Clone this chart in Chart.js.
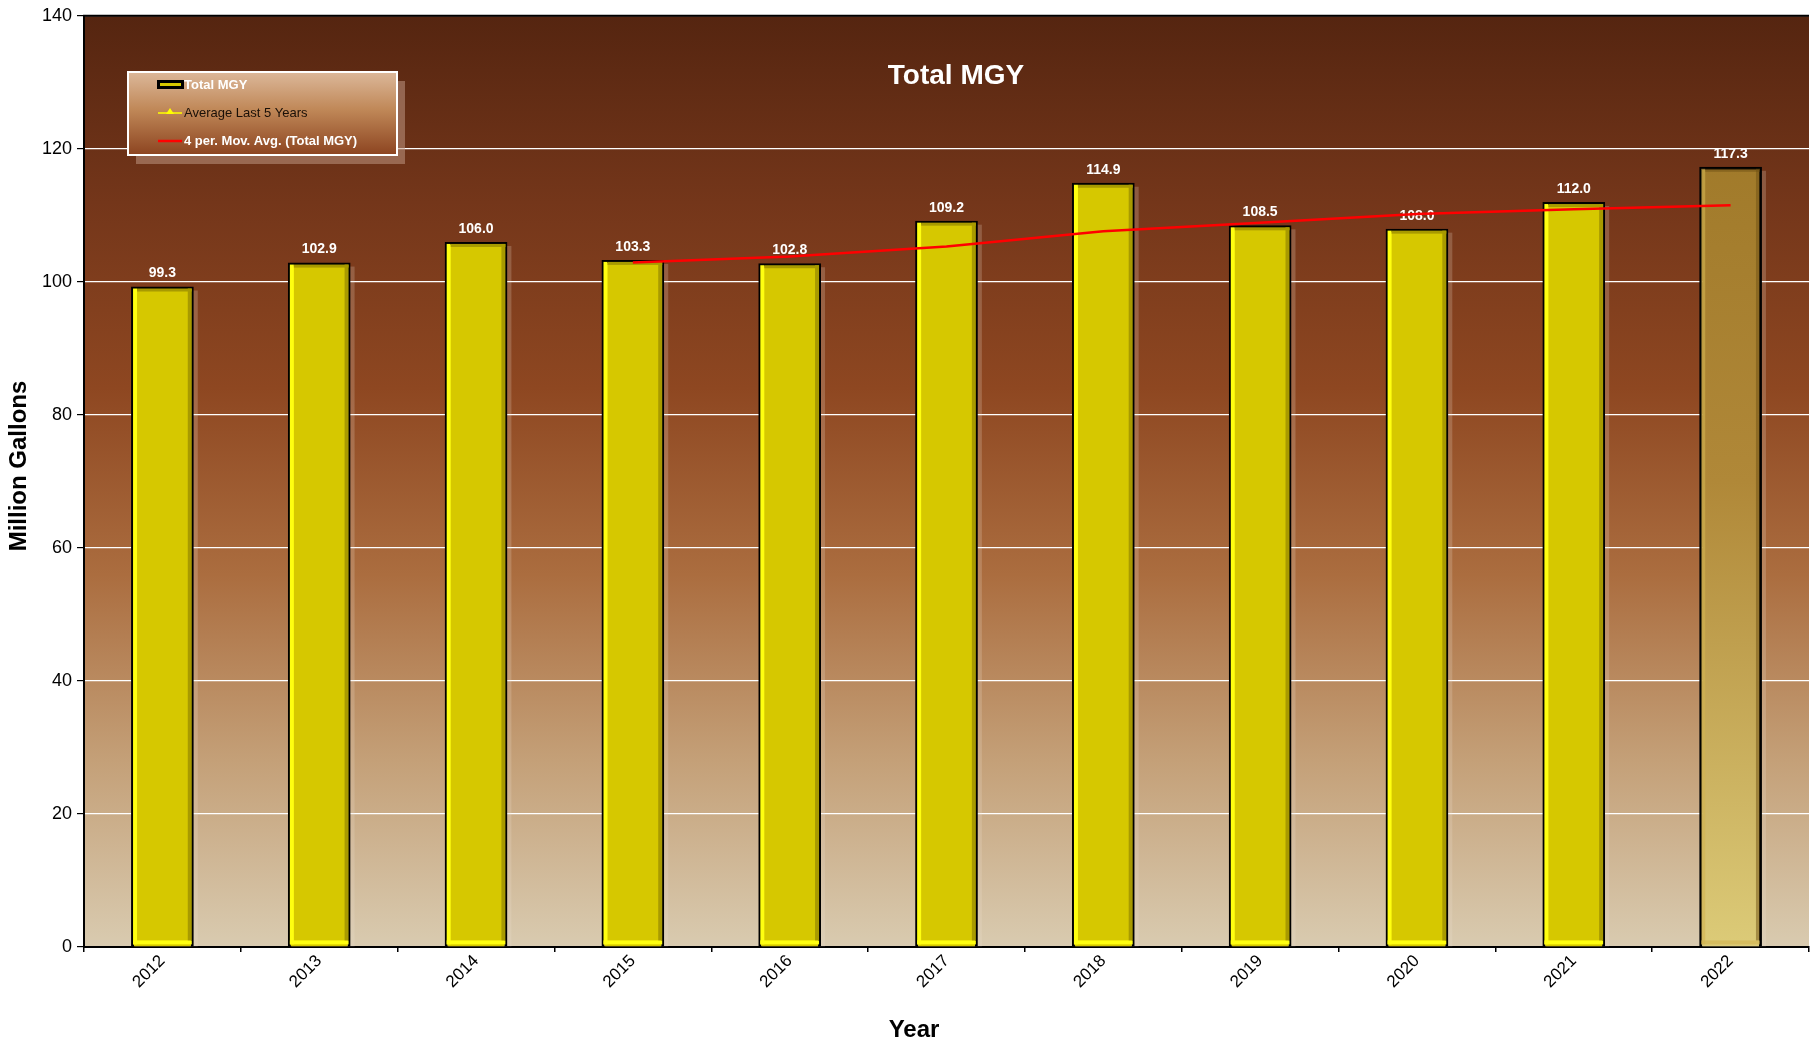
<!DOCTYPE html>
<html>
<head>
<meta charset="utf-8">
<script src="https://cdn.jsdelivr.net/npm/chart.js"></script>
<style>
  html, body { margin: 0; padding: 0; background: #ffffff; }
  #wrap { width: 1815px; height: 1046px; }
</style>
</head>
<body>
<div id="wrap"><canvas id="chart" width="1815" height="1046"></canvas></div>
<script>
// données
const years = ["2012", "2013", "2014", "2015", "2016", "2017", "2018", "2019", "2020", "2021", "2022"];
const totalMGY = [99.3, 102.9, 106.0, 103.3, 102.8, 109.2, 114.9, 108.5, 108.0, 112.0, 117.3];
const avgLast5 = [null, null, null, null, null, null, null, null, null, null, null];
const movAvg4 = [null, null, null, 102.9, 103.8, 105.3, 107.6, 108.9, 110.2, 110.9, 111.5];
const yTicks = [0, 20, 40, 60, 80, 100, 120, 140];

const FONT = "'Liberation Sans', Arial, sans-serif";

// fond dégradé de la zone de tracé
const plotBackground = {
    id: "plotBackground",
    beforeDraw(chart) {
        const { ctx, chartArea: a } = chart;
        const g = ctx.createLinearGradient(0, a.top, 0, a.bottom);
        g.addColorStop(0, "#552510");
        g.addColorStop(0.2, "#74361a");
        g.addColorStop(0.4, "#8e4721");
        g.addColorStop(0.6, "#ab6d3f");
        g.addColorStop(0.8, "#c4a078");
        g.addColorStop(1, "#d9cbb0");
        ctx.save();
        ctx.fillStyle = g;
        ctx.fillRect(a.left, a.top, a.right - a.left, a.bottom - a.top);
        ctx.restore();
    },
    afterDraw(chart) {
        const { ctx, chartArea: a } = chart;
        ctx.save();
        ctx.strokeStyle = "#000";
        ctx.lineWidth = 2;
        ctx.beginPath();
        ctx.moveTo(a.left, a.bottom);
        ctx.lineTo(a.left, a.top);
        ctx.lineTo(a.right, a.top);
        ctx.stroke();
        // titres des axes
        ctx.fillStyle = "#000";
        ctx.font = "bold 24px " + FONT;
        ctx.textAlign = "center";
        ctx.textBaseline = "middle";
        ctx.fillText("Year", 914, 1030);
        ctx.translate(19, 466);
        ctx.rotate(-Math.PI / 2);
        ctx.fillText("Million Gallons", 0, 0);
        ctx.restore();
    }
};

// relief des barres + étiquettes
const barStyle = {
    id: "barStyle",
    beforeDatasetDraw(chart, args) {
        if (args.index !== 0) return;
        const { ctx } = chart;
        ctx.save();
        args.meta.data.forEach(bar => {
            const w = bar.width;
            ctx.fillStyle = "rgba(235,225,210,0.22)";
            ctx.fillRect(bar.x - w / 2 + 4, bar.y + 4, w, bar.base - bar.y - 4);
        });
        ctx.restore();
    },
    afterDatasetDraw(chart, args) {
        if (args.index !== 0) return;
        const { ctx } = chart;
        ctx.save();
        args.meta.data.forEach((bar, i) => {
            const w = bar.width;
            const l = bar.x - w / 2 + 2, r = bar.x + w / 2 - 2;
            const t = bar.y + 2, b = bar.base - 2;
            const last = i === totalMGY.length - 1;
            ctx.fillStyle = last ? "rgba(210,180,80,0.6)" : "#ffff10";
            ctx.fillRect(l, t, 4, b - t);
            ctx.fillRect(l, b - 4, r - l, 4);
            ctx.fillStyle = last ? "rgba(110,80,20,0.5)" : "#a89a00";
            ctx.fillRect(r - 4, t, 4, b - t - 4);
            ctx.fillRect(l + 4, t, r - l - 4, 3);
            // étiquette
            ctx.fillStyle = "#ffffff";
            ctx.font = "bold 14px " + FONT;
            ctx.textAlign = "center";
            ctx.textBaseline = "bottom";
            ctx.fillText(totalMGY[i].toFixed(1), bar.x, bar.y - 6);
        });
        ctx.restore();
    }
};

// titre et légende dessinés dans la zone
const titleLegend = {
    id: "titleLegend",
    afterDraw(chart) {
        const { ctx } = chart;
        ctx.save();
        ctx.fillStyle = "#ffffff";
        ctx.font = "bold 28px " + FONT;
        ctx.textAlign = "center";
        ctx.textBaseline = "middle";
        ctx.fillText("Total MGY", 956, 76);

        const bx = 128, by = 72, bw = 269, bh = 83;
        ctx.fillStyle = "rgba(190,150,130,0.55)";
        ctx.fillRect(bx + 8, by + 9, bw, bh);
        const g = ctx.createLinearGradient(0, by, 0, by + bh);
        g.addColorStop(0, "#dcb89a");
        g.addColorStop(0.45, "#c08858");
        g.addColorStop(1, "#8c4420");
        ctx.fillStyle = g;
        ctx.fillRect(bx, by, bw, bh);
        ctx.strokeStyle = "#ffffff";
        ctx.lineWidth = 2;
        ctx.strokeRect(bx, by, bw, bh);

        // symboles
        ctx.fillStyle = "#000";
        ctx.fillRect(157, 80, 27, 9);
        ctx.fillStyle = "#d6c800";
        ctx.fillRect(160, 83, 21, 3);
        ctx.strokeStyle = "#ffff00";
        ctx.lineWidth = 1.5;
        ctx.beginPath(); ctx.moveTo(158, 113); ctx.lineTo(182, 113); ctx.stroke();
        ctx.fillStyle = "#ffff00";
        ctx.beginPath(); ctx.moveTo(170, 108); ctx.lineTo(174, 114); ctx.lineTo(166, 114); ctx.closePath(); ctx.fill();
        ctx.strokeStyle = "#ff0000";
        ctx.lineWidth = 2.5;
        ctx.beginPath(); ctx.moveTo(158, 141); ctx.lineTo(182, 141); ctx.stroke();

        ctx.textAlign = "left";
        ctx.font = "bold 13px " + FONT;
        ctx.fillStyle = "#ffffff";
        ctx.fillText("Total MGY", 184, 85);
        ctx.font = "13px " + FONT;
        ctx.fillStyle = "#1a1008";
        ctx.fillText("Average Last 5 Years", 184, 113);
        ctx.font = "bold 13px " + FONT;
        ctx.fillStyle = "#ffffff";
        ctx.fillText("4 per. Mov. Avg. (Total MGY)", 184, 141);
        ctx.restore();
    }
};

const lastBarFill = (context) => {
    const chart = context.chart;
    const a = chart.chartArea;
    if (!a) return "#d6c800";
    if (context.dataIndex !== totalMGY.length - 1) return "#d6c800";
    const g = chart.ctx.createLinearGradient(0, a.top, 0, a.bottom);
    g.addColorStop(0, "#9a7424");
    g.addColorStop(0.5, "#b08838");
    g.addColorStop(1, "#dccb78");
    return g;
};

new Chart(document.getElementById("chart"), {
    type: "bar",
    data: {
        labels: years,
        datasets: [
            {
                label: "Total MGY",
                data: totalMGY,
                backgroundColor: lastBarFill,
                borderColor: "#000000",
                borderWidth: 3,
                barPercentage: 0.8,
                categoryPercentage: 0.5,
                order: 2
            },
            {
                type: "line",
                label: "Average Last 5 Years",
                data: avgLast5,
                borderColor: "#ffff00",
                pointStyle: "triangle",
                order: 1
            },
            {
                type: "line",
                label: "4 per. Mov. Avg. (Total MGY)",
                data: movAvg4,
                borderColor: "#ff0000",
                borderWidth: 2.5,
                pointRadius: 0,
                tension: 0,
                spanGaps: false,
                order: 0
            }
        ]
    },
    options: {
        responsive: false,
        animation: false,
        layout: { padding: { top: 15, right: 6, left: 0, bottom: 0 } },
        plugins: {
            legend: { display: false },
            title: { display: false },
            tooltip: { enabled: false }
        },
        scales: {
            x: {
                grid: { display: true, drawOnChartArea: false, offset: true, color: "#000", tickLength: 5, lineWidth: 1.5 },
                border: { color: "#000", width: 2 },
                ticks: {
                    color: "#000",
                    font: { family: FONT, size: 17 },
                    minRotation: 45,
                    maxRotation: 45,
                    padding: -1
                },
                afterFit(scale) { scale.height = 99; }
            },
            y: {
                min: 0,
                max: 140,
                afterBuildTicks(scale) { scale.ticks = yTicks.map(v => ({ value: v })); },
                grid: { color: "#ffffff", lineWidth: 1.2, tickLength: 7, tickColor: "#000", drawTicks: true },
                border: { color: "#000", width: 2 },
                ticks: {
                    color: "#000",
                    font: { family: FONT, size: 18 },
                    padding: 5
                },
                afterFit(scale) { scale.width = 84; }
            }
        }
    },
    plugins: [plotBackground, barStyle, titleLegend]
});
</script>
</body>
</html>
